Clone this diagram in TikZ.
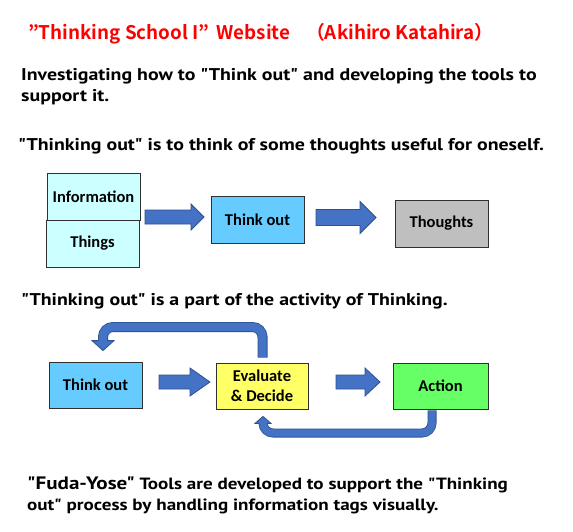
\documentclass[tikz,border=0pt]{standalone}
\usepackage{fontspec}
\usetikzlibrary{calc}
\newfontfamily\titlefont{Noto Sans CJK JP}[BoldFont={* Bold}]
\newfontfamily\bodyfont{PT Sans}[FakeStretch=1.17]
\newfontfamily\boxfont{Carlito}
\definecolor{afill}{HTML}{4472C4}
\definecolor{aedge}{HTML}{2F528F}
\definecolor{boxedge}{HTML}{303030}
\definecolor{cLight}{HTML}{CCFFFF}
\definecolor{cBlue}{HTML}{66CCFF}
\definecolor{cGray}{HTML}{BFBFBF}
\definecolor{cYellow}{HTML}{FFFF66}
\definecolor{cGreen}{HTML}{66FF66}
\tikzset{
  box/.style={draw=boxedge, line width=0.8pt, inner sep=0pt, align=center,
    font=\boxfont\bfseries\fontsize{16.5}{20}\selectfont},
  txt/.style={anchor=base west, inner sep=0pt,
    font=\bodyfont\bfseries\fontsize{17}{20}\selectfont},
  barrow/.style={fill=afill, draw=aedge, line width=0.8pt, line join=miter},
  bandout/.style={draw=aedge, line width=#1, rounded corners=10pt},
  bandin/.style={draw=afill, line width=#1, rounded corners=10pt},
  pics/blockarrow/.style args={#1/#2/#3/#4}{code={
    \path[barrow] (0,{-#2}) -- ({#1-#4},{-#2}) -- ({#1-#4},{-#3}) -- (#1,0)
      -- ({#1-#4},#3) -- ({#1-#4},#2) -- (0,#2) -- cycle;}}
}
\begin{document}
\begin{tikzpicture}[x=1pt,y=-1pt]
\useasboundingbox (0,0) rectangle (573,532);
\fill[white] (0,0) rectangle (573,532);

% texts
\node[anchor=base west, inner sep=0pt, text=red,
  font=\titlefont\bfseries\fontsize{18.8}{20}\selectfont] (title) at (28,40)
  {”Thinking School I”\hspace{7pt}Website\hspace{16pt}（Akihiro Katahira）};
\node[txt] (l1) at (21,81) {Investigating how to "Think out" and developing the tools to};
\node[txt] (l2) at (21,102) {support it.};
\node[txt] (l3) at (18,150) {"Thinking out" is to think of some thoughts useful for oneself.};
\node[txt] (l4) at (21,305) {"Thinking out" is a part of the activity of Thinking.};
\node[txt, font=\bodyfont\bfseries\fontsize{16.3}{20}\selectfont] (l5) at (27,489) {{\fontsize{18}{20}\selectfont"Fuda-Yose"} Tools are developed to support the "Thinking};
\node[txt, font=\bodyfont\bfseries\fontsize{16.3}{20}\selectfont] (l6) at (27,510) {out" process by handling information tags visually.};

% row 1
\node[box, fill=cLight, minimum width=93pt, minimum height=47pt] (info) at (93.5,196.5) {Information};
\node[box, fill=cLight, minimum width=93pt, minimum height=47pt] (things) at (92.5,243.5) {Things};
\node[box, fill=cBlue, minimum width=93pt, minimum height=47pt] (to1) at (257.5,219.5) {Think out};
\node[box, fill=cGray, minimum width=93pt, minimum height=47pt] (th) at (441.5,223.5) {Thoughts};
\pic at (145,217) {blockarrow=59/7/13/13};
\pic at (316,217.5) {blockarrow=60/8/16/16};

% row 2
\node[box, fill=cBlue, minimum width=93pt, minimum height=46pt] (to2) at (95.5,385) {Think out};
\node[box, fill=cYellow, minimum width=92pt, minimum height=46pt] (ed) at (262,386) {Evaluate\\\& Decide};
\node[box, fill=cGreen, minimum width=95pt, minimum height=46pt] (act) at (440.5,386) {Action};
\pic at (159,382) {blockarrow=51/7/14/20};
\pic at (336,382) {blockarrow=44/7/14/15};

% top feedback arrow
\coordinate (ts) at ($(ed.north)+(0.5,-5)$);
\coordinate (tTip) at ($(to2.north)+(7.5,-11)$);
\coordinate (tBase) at ($(tTip)+(0,-10)$);
\coordinate (tTop) at (0,327);
\draw[bandout=10pt] (ts) -- (ts|-tTop) -- (tBase|-tTop) -- (tBase);
\filldraw[barrow] ($(tBase)+(-11,0)$) -- (tTip) -- ($(tBase)+(11,0)$) -- cycle;
\draw[bandin=8.4pt, shorten <=0.8pt] (ts) -- (ts|-tTop) -- (tBase|-tTop) -- ($(tBase)+(0,1.5)$);

% bottom feedback arrow
\coordinate (bs) at ($(act.south)+(-8.5,1)$);
\coordinate (bTip) at ($(ed.south)+(1,7)$);
\coordinate (bBase) at ($(bTip)+(0,7)$);
\coordinate (bBot) at (0,433);
\draw[bandout=9pt] (bs) -- (bs|-bBot) -- (bBase|-bBot) -- (bBase);
\filldraw[barrow] ($(bBase)+(-8,0)$) -- (bTip) -- ($(bBase)+(8,0)$) -- cycle;
\draw[bandin=7.4pt, shorten <=0.8pt] (bs) -- (bs|-bBot) -- (bBase|-bBot) -- ($(bBase)+(0,-1.5)$);
\end{tikzpicture}
\end{document}
